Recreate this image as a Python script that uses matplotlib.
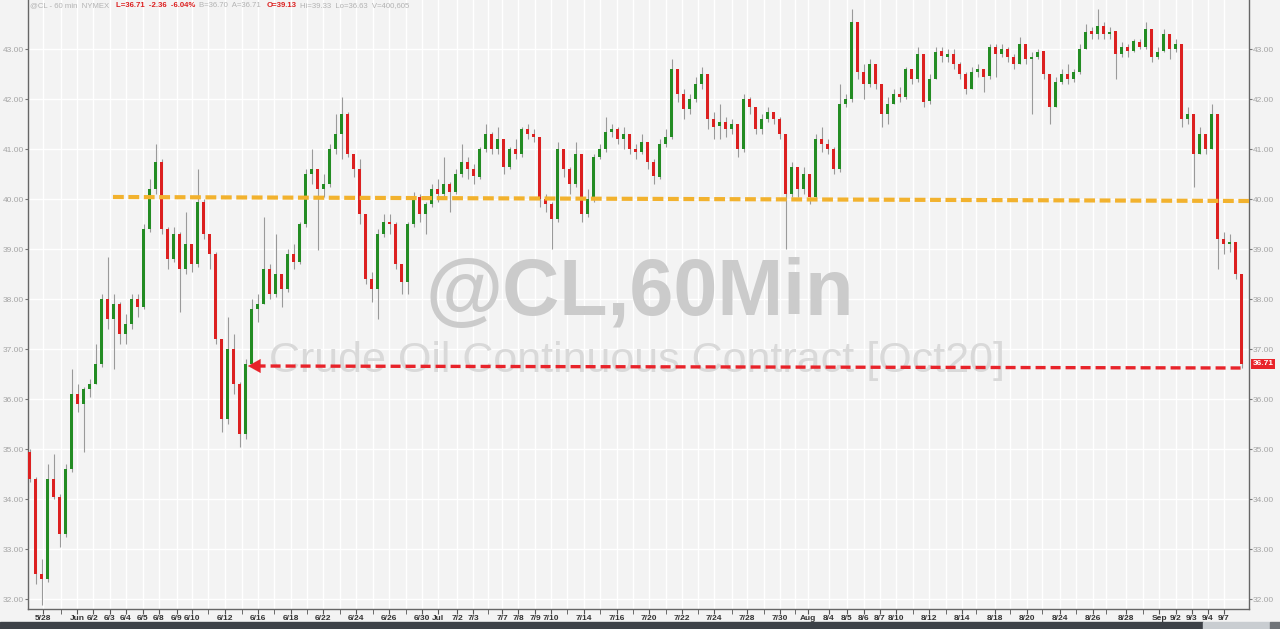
import numpy as np
import matplotlib.pyplot as plt
from matplotlib.patches import Rectangle
from matplotlib.transforms import blended_transform_factory

plt.rcParams["font.family"] = ["Liberation Sans", "DejaVu Sans"]

# @CL 60 min candles (one candle per ~6 px of the original)
opens = [
    34.95, 34.40, 32.50, 32.40, 34.40, 34.05, 33.30, 34.60, 36.10, 35.90,
    36.20, 36.30, 36.70, 38.00, 37.60, 37.90, 37.30, 37.50, 38.00, 37.85,
    39.40, 40.20, 40.75, 39.40, 38.80, 39.30, 38.60, 39.10, 38.70, 39.95,
    39.30, 38.90, 37.20, 35.60, 37.00, 36.30, 35.30, 36.70, 37.80, 37.90,
    38.60, 38.10, 38.50, 38.20, 38.90, 38.75, 39.50, 40.50, 40.60, 40.20,
    40.30, 41.00, 41.30, 41.70, 40.90, 40.60, 39.70, 38.40, 38.20, 39.30,
    39.55, 39.50, 38.70, 38.35, 39.50, 40.05, 39.70, 39.90, 40.20, 40.10,
    40.30, 40.15, 40.50, 40.75, 40.60, 40.45, 41.00, 41.30, 41.00, 41.20,
    40.65, 41.00, 40.90, 41.40, 41.30, 41.25, 40.00, 39.90, 39.60, 41.00,
    40.60, 40.30, 40.90, 39.70, 40.00, 40.85, 41.00, 41.35, 41.40, 41.20,
    41.30, 41.00, 40.95, 41.15, 40.75, 40.45, 41.10, 41.25, 42.60, 42.10,
    41.80, 42.00, 42.30, 42.50, 41.60, 41.45, 41.55, 41.40, 41.50, 41.00,
    42.00, 41.85, 41.40, 41.60, 41.75, 41.60, 41.30, 40.10, 40.65, 40.20,
    40.50, 40.05, 41.20, 41.10, 41.00, 40.60, 41.90, 42.00, 43.55, 42.55,
    42.30, 42.70, 42.30, 41.70, 41.90, 42.10, 42.05, 42.60, 42.40, 42.90,
    41.95, 42.40, 42.95, 42.85, 42.90, 42.70, 42.50, 42.20, 42.55, 42.60,
    42.45, 43.05, 42.90, 43.00, 42.85, 42.70, 43.10, 42.80, 42.85, 42.95,
    42.50, 41.85, 42.35, 42.50, 42.40, 42.55, 43.00, 43.35, 43.30, 43.45,
    43.30, 43.35, 42.90, 43.05, 42.95, 43.15, 43.05, 43.40, 42.85, 42.95,
    43.30, 43.00, 43.10, 41.60, 41.70, 40.90, 41.30, 41.00, 41.70, 39.20,
    39.10, 39.15, 38.50,
]
highs = [
    35.00, 34.45, 32.80, 34.70, 34.90, 34.10, 34.70, 36.60, 36.30, 36.25,
    36.40, 37.10, 38.10, 38.85, 38.10, 37.95, 37.70, 38.10, 38.10, 39.50,
    40.40, 41.10, 40.80, 39.45, 39.45, 39.35, 39.75, 39.10, 40.60, 40.00,
    39.05, 38.95, 37.20, 37.65, 37.30, 36.35, 36.80, 38.00, 38.10, 39.65,
    38.70, 39.30, 38.50, 39.00, 39.10, 39.55, 40.60, 41.00, 40.60, 40.50,
    41.10, 41.70, 42.05, 41.75, 40.85, 40.80, 39.70, 38.55, 39.40, 39.70,
    39.70, 39.55, 38.70, 39.55, 40.15, 40.10, 39.95, 40.30, 40.40, 40.85,
    40.35, 40.60, 41.10, 40.85, 40.70, 41.05, 41.50, 41.35, 41.45, 41.20,
    41.05, 41.20, 41.45, 41.50, 41.40, 41.25, 40.10, 39.95, 41.15, 41.00,
    40.65, 41.15, 40.90, 40.20, 40.90, 41.10, 41.65, 41.50, 41.45, 41.45,
    41.30, 41.10, 41.30, 41.15, 40.80, 41.20, 41.40, 42.80, 42.60, 42.20,
    42.10, 42.45, 42.65, 42.50, 41.75, 41.90, 41.65, 41.60, 41.50, 42.10,
    42.05, 41.85, 41.70, 41.85, 41.75, 41.65, 41.30, 40.75, 40.60, 40.65,
    40.50, 41.30, 41.45, 41.20, 41.05, 42.30, 42.10, 43.80, 43.55, 42.70,
    42.80, 42.70, 42.30, 42.05, 42.20, 42.25, 42.65, 42.60, 43.05, 42.90,
    42.50, 43.05, 43.05, 43.00, 43.00, 42.75, 42.55, 42.65, 42.70, 42.60,
    43.10, 43.10, 43.10, 43.05, 42.90, 43.25, 43.10, 42.95, 43.00, 42.95,
    42.50, 42.45, 42.60, 42.70, 42.60, 43.10, 43.50, 43.45, 43.80, 43.55,
    43.45, 43.35, 43.15, 43.10, 43.20, 43.20, 43.55, 43.40, 43.05, 43.40,
    43.30, 43.20, 43.10, 41.85, 41.70, 41.45, 41.30, 41.90, 41.70, 39.35,
    39.30, 39.15, 38.50,
]
lows = [
    34.35, 32.30, 31.88, 32.35, 34.00, 33.05, 33.25, 34.55, 35.75, 34.95,
    36.05, 36.30, 36.65, 37.40, 36.60, 37.10, 37.10, 37.40, 37.65, 37.80,
    39.35, 40.10, 39.30, 38.60, 38.75, 37.75, 38.50, 38.55, 38.65, 39.20,
    38.60, 37.10, 35.35, 35.50, 36.10, 35.05, 35.20, 36.65, 37.55, 37.90,
    38.00, 38.05, 37.85, 38.15, 38.60, 38.70, 39.45, 40.30, 38.98, 40.05,
    40.25, 40.90, 40.80, 40.85, 40.45, 39.50, 38.30, 37.95, 37.60, 39.25,
    39.30, 38.60, 38.10, 38.10, 39.45, 39.55, 39.30, 39.85, 39.95, 40.05,
    39.75, 40.10, 40.45, 40.40, 40.30, 40.40, 40.95, 40.90, 40.90, 40.50,
    40.60, 40.80, 40.85, 41.20, 41.15, 39.85, 39.75, 39.00, 39.55, 40.45,
    40.10, 40.25, 39.55, 39.65, 39.95, 40.80, 40.95, 41.25, 41.10, 41.00,
    40.90, 40.80, 40.90, 40.60, 40.30, 40.40, 41.05, 41.20, 41.95, 41.60,
    41.70, 41.95, 42.20, 41.40, 41.20, 41.20, 41.25, 41.30, 40.85, 40.95,
    41.70, 41.30, 41.30, 41.55, 41.50, 41.20, 39.00, 40.05, 40.05, 40.10,
    39.90, 40.00, 40.95, 40.90, 40.50, 40.55, 41.85, 41.95, 42.40, 42.00,
    42.25, 42.20, 41.45, 41.50, 41.90, 41.95, 42.00, 42.30, 42.35, 41.85,
    41.90, 42.40, 42.75, 42.75, 42.60, 42.40, 42.10, 42.20, 42.45, 42.15,
    42.40, 42.45, 42.85, 42.75, 42.60, 42.70, 42.70, 41.70, 42.80, 42.40,
    41.50, 41.85, 42.30, 42.30, 42.35, 42.50, 43.00, 43.20, 43.20, 43.20,
    43.20, 42.40, 42.85, 42.85, 42.95, 43.00, 43.00, 42.75, 42.80, 42.95,
    42.80, 42.95, 41.45, 41.50, 40.25, 40.90, 40.90, 41.00, 38.60, 38.90,
    38.95, 38.40, 36.63,
]
closes = [
    34.40, 32.50, 32.40, 34.40, 34.05, 33.30, 34.60, 36.10, 35.90, 36.20,
    36.30, 36.70, 38.00, 37.60, 37.90, 37.30, 37.50, 38.00, 37.85, 39.40,
    40.20, 40.75, 39.40, 38.80, 39.30, 38.60, 39.10, 38.70, 39.95, 39.30,
    38.90, 37.20, 35.60, 37.00, 36.30, 35.30, 36.70, 37.80, 37.90, 38.60,
    38.10, 38.50, 38.20, 38.90, 38.75, 39.50, 40.50, 40.60, 40.20, 40.30,
    41.00, 41.30, 41.70, 40.90, 40.60, 39.70, 38.40, 38.20, 39.30, 39.55,
    39.50, 38.70, 38.35, 39.50, 40.05, 39.70, 39.90, 40.20, 40.10, 40.30,
    40.15, 40.50, 40.75, 40.60, 40.45, 41.00, 41.30, 41.00, 41.20, 40.65,
    41.00, 40.90, 41.40, 41.30, 41.25, 40.00, 39.90, 39.60, 41.00, 40.60,
    40.30, 40.90, 39.70, 40.00, 40.85, 41.00, 41.35, 41.40, 41.20, 41.30,
    41.00, 40.95, 41.15, 40.75, 40.45, 41.10, 41.25, 42.60, 42.10, 41.80,
    42.00, 42.30, 42.50, 41.60, 41.45, 41.55, 41.40, 41.50, 41.00, 42.00,
    41.85, 41.40, 41.60, 41.75, 41.60, 41.30, 40.10, 40.65, 40.20, 40.50,
    40.05, 41.20, 41.10, 41.00, 40.60, 41.90, 42.00, 43.55, 42.55, 42.30,
    42.70, 42.30, 41.70, 41.90, 42.10, 42.05, 42.60, 42.40, 42.90, 41.95,
    42.40, 42.95, 42.85, 42.90, 42.70, 42.50, 42.20, 42.55, 42.60, 42.45,
    43.05, 42.90, 43.00, 42.85, 42.70, 43.10, 42.80, 42.85, 42.95, 42.50,
    41.85, 42.35, 42.50, 42.40, 42.55, 43.00, 43.35, 43.30, 43.45, 43.30,
    43.35, 42.90, 43.05, 42.95, 43.15, 43.05, 43.40, 42.85, 42.95, 43.30,
    43.00, 43.10, 41.60, 41.70, 40.90, 41.30, 41.00, 41.70, 39.20, 39.10,
    39.15, 38.50, 36.71,
]

# date axis (positions in candle units)
date_labels = ["5/28", "Jun", "6/2", "6/3", "6/4", "6/5", "6/8", "6/9", "6/10",
               "6/12", "6/16", "6/18", "6/22", "6/24", "6/26", "6/30", "Jul",
               "7/2", "7/3", "7/7", "7/8", "7/9", "7/10", "7/14", "7/16",
               "7/20", "7/22", "7/24", "7/28", "7/30", "Aug", "8/4", "8/5",
               "8/6", "8/7", "8/10", "8/12", "8/14", "8/18", "8/20", "8/24",
               "8/26", "8/28", "Sep", "9/2", "9/3", "9/4", "9/7"]
date_pos = [2.17, 7.83, 10.5, 13.33, 16.0, 18.83, 21.5, 24.5, 27.0,
            32.5, 38.0, 43.5, 48.83, 54.33, 59.83, 65.33, 68.0,
            71.17, 73.83, 78.67, 81.33, 84.17, 86.83, 92.33, 97.83,
            103.17, 108.67, 114.0, 119.5, 125.0, 129.67, 133.17, 136.17,
            139.0, 141.67, 144.33, 149.83, 155.33, 160.83, 166.17, 171.67,
            177.17, 182.67, 188.17, 191.0, 193.67, 196.33, 199.0]
other_days_pos = [5.17, 29.67, 35.33, 40.67, 46.17, 51.67, 57.17, 62.67, 76.33,
                  89.5, 95.0, 100.5, 106.0, 111.33, 117.0, 122.33, 127.5,
                  147.17, 152.67, 157.67, 163.33, 168.67, 174.33, 179.33, 185.5]
price_ticks = np.arange(32, 44)

support_level = [40.04, 39.96]
arrow_level = [36.66, 36.62]
last_price = 36.71

GREEN = "#238c23"
RED = "#dc2020"
BG = "#f3f3f3"

x = np.arange(len(closes))
o = np.array(opens)
c = np.array(closes)
up = c >= o

fig = plt.figure(figsize=(12.8, 6.29), dpi=100, facecolor=BG)
ax = fig.add_axes([28 / 1280, 20 / 629, 1221 / 1280, 609 / 629])
ax.set_facecolor(BG)

# candles
ax.vlines(x, lows, highs, color="#9a9a9a", lw=0.8, zorder=2)
ax.bar(x, c - o, bottom=o, width=0.5, color=np.where(up, GREEN, RED),
       edgecolor="none", zorder=3)

ax.set_xlim(-0.33, 203.17)
ax.set_ylim(31.8, 43.98)

# watermark
ax.text(640 / 1280, 1 - 315 / 629, "@CL,60Min", transform=fig.transFigure,
        fontsize=57, fontweight="bold", color="#cbcbcb", ha="center",
        va="baseline", zorder=1)
ax.text(637 / 1280, 1 - 372 / 629, "Crude Oil Continuous Contract [Oct20]",
        transform=fig.transFigure, fontsize=31, color="#d9d9d9", ha="center",
        va="baseline", zorder=1)

# 40 support line
ax.plot([13.83, 203.17], support_level, color="#f2b22e", lw=3.0,
        dashes=(2.6, 1.1), solid_capstyle="butt", zorder=4, clip_on=False)

# red arrow to last price
ax.plot([37.6, 202.0], arrow_level, color="#e8232a", lw=2.4,
        dashes=(3.0, 1.5), zorder=4)
ax.annotate("", xy=(36.33, arrow_level[0]), xytext=(38.6, arrow_level[0]),
            arrowprops=dict(arrowstyle="-|>,head_length=0.9,head_width=0.5",
                            color="#e8232a", lw=0.1, shrinkA=0, shrinkB=0),
            zorder=4)

# last price marker
trans = blended_transform_factory(ax.transAxes, ax.transData)
ax.text(1.003, last_price, f"{last_price:.2f}", transform=trans, fontsize=6,
        fontweight="bold", color="white", ha="left", va="center",
        bbox=dict(boxstyle="square,pad=0.18", fc="#e8232a", ec="none"), zorder=6)

# axes styling
ax.set_yticks(price_ticks)
ax.set_yticklabels([f"{v:.2f}" for v in price_ticks])
ax.set_xticks(date_pos)
ax.set_xticklabels(date_labels)
ax.set_xticks(other_days_pos, minor=True)
ax.tick_params(axis="y", left=True, right=True, labelleft=True, labelright=True,
               labelsize=6, labelcolor="#a5a5a5", color="#777777", length=2,
               pad=1)
ax.tick_params(axis="x", which="both", labelsize=6, labelcolor="#333333",
               color="#555555", length=3.5, pad=0.5)
for lbl in ax.get_xticklabels():
    lbl.set_fontweight("bold")
ax.grid(True, which="both", axis="x", color="white", lw=1.0, zorder=0)
ax.grid(True, which="major", axis="y", color="white", lw=1.0, zorder=0)
ax.set_axisbelow(True)
ax.spines["top"].set_visible(False)
for side in ["left", "right", "bottom"]:
    ax.spines[side].set_color("#666666")
    ax.spines[side].set_linewidth(1.0)

# header line
header = [
    (30, "@CL - 60 min  NYMEX", "#b3b3b3", "normal"),
    (116, "L=36.71  -2.36  -6.04%", RED, "bold"),
    (199, "B=36.70  A=36.71", "#b3b3b3", "normal"),
    (267, "O=39.13", RED, "bold"),
    (300, "Hi=39.33  Lo=36.63  V=400,605", "#b3b3b3", "normal"),
]
for px, txt, col, wt in header:
    fig.text(px / 1280, 1 - 5.5 / 629, txt, fontsize=5.6, color=col,
             fontweight=wt, ha="left", va="center")

# scroll bar strip at the bottom
fig.patches.append(Rectangle((0, 0), 1203 / 1280, 7 / 629,
                             transform=fig.transFigure, color="#3d4147"))
fig.patches.append(Rectangle((1203 / 1280, 0), 67 / 1280, 7 / 629,
                             transform=fig.transFigure, color="#c9cdd1"))
fig.patches.append(Rectangle((1270 / 1280, 0), 10 / 1280, 7 / 629,
                             transform=fig.transFigure, color="#707478"))

fig.savefig("out.png", dpi=100, facecolor=BG)
